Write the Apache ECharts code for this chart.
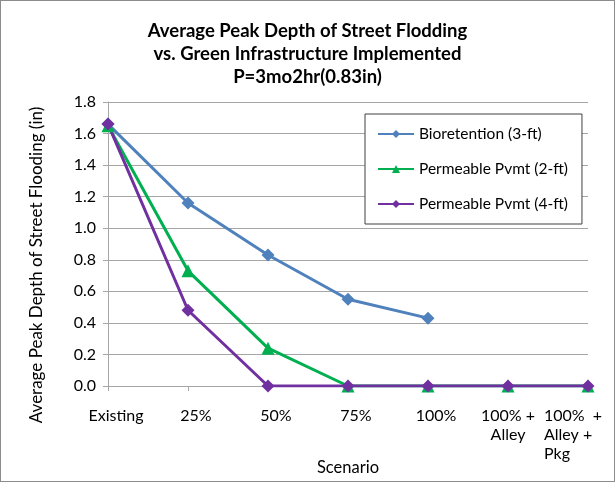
<!DOCTYPE html>
<html>
<head>
<meta charset="utf-8">
<script src="https://cdn.jsdelivr.net/npm/echarts@6/dist/echarts.min.js"></script>
<style>
  html, body { margin: 0; padding: 0; background: #fff; }
  #chart { width: 613px; height: 480px; border: 1px solid #8c8c8c; }
</style>
</head>
<body>
<div id="chart"></div>
<script>
// Scenario categories along the x axis
const scenarios = ['Existing', '25%', '50%', '75%', '100%', '100% +\nAlley', '100%  +\nAlley +\nPkg'];

// Average peak depth of street flooding (in) per scenario
const bioretention3ft = [1.66, 1.16, 0.83, 0.55, 0.43, null, null];
const permeablePvmt2ft = [1.65, 0.73, 0.24, 0, 0, 0, 0];
const permeablePvmt4ft = [1.66, 0.48, 0, 0, 0, 0, 0];

const seriesNames = ['Bioretention (3-ft)', 'Permeable Pvmt (2-ft)', 'Permeable Pvmt (4-ft)'];

const FONT = 'Lato, "Open Sans", sans-serif';

const chart = echarts.init(document.getElementById('chart'));

// Single-line labels sit a little right of their ticks; the two-line one stays centred
// and the last one is pulled back inside the frame
const categoryData = scenarios.map((s, i) => {
  let textStyle;
  if (i === scenarios.length - 1) textStyle = { align: 'left', padding: [0, 0, 0, -44] };
  else if (i === scenarios.length - 2) textStyle = {};
  else textStyle = { padding: [0, 0, 0, 16] };
  return { value: s, textStyle };
});

chart.setOption({
  animation: false,
  backgroundColor: '#fff',
  title: {
    text: 'Average Peak Depth of Street Flodding\nvs. Green Infrastructure Implemented\nP=3mo2hr(0.83in)',
    left: 'center',
    top: 14,
    textStyle: { fontFamily: FONT, fontSize: 18.5, fontWeight: 'bold', color: '#000', lineHeight: 23 }
  },
  grid: { left: 107, right: 26, top: 101, bottom: 95, outerBoundsMode: 'none', containLabel: false },
  legend: {
    orient: 'vertical',
    left: 364,
    top: 113,
    width: 215,
    padding: [12, 14, 12, 12],
    itemGap: 19,
    itemWidth: 36,
    itemHeight: 10,
    backgroundColor: '#fff',
    borderColor: '#404040',
    borderWidth: 1,
    textStyle: { fontFamily: FONT, fontSize: 15.5, color: '#000' },
    data: seriesNames
  },
  xAxis: {
    type: 'category',
    boundaryGap: false,
    data: categoryData,
    name: 'Scenario',
    nameLocation: 'middle',
    nameGap: 73,
    nameMoveOverlap: false,
    nameTextStyle: { fontFamily: FONT, fontSize: 16.5, color: '#000' },
    axisLine: { lineStyle: { color: '#a6a6a6', width: 1 } },
    axisTick: { show: true, alignWithLabel: true, length: 5, lineStyle: { color: '#a6a6a6' } },
    axisLabel: { interval: 0, margin: 20, fontFamily: FONT, fontSize: 16, color: '#000', lineHeight: 19, verticalAlign: 'top' },
    splitLine: { show: false }
  },
  yAxis: {
    type: 'value',
    min: 0,
    max: 1.8,
    interval: 0.2,
    name: 'Average Peak Depth of Street Flooding (in)',
    nameLocation: 'middle',
    nameGap: 63,
    nameMoveOverlap: false,
    nameTextStyle: { fontFamily: FONT, fontSize: 17, color: '#000', padding: [0, 42, 0, 0] },
    axisLine: { show: true, lineStyle: { color: '#a6a6a6', width: 1 } },
    axisTick: { show: true, length: 5, lineStyle: { color: '#a6a6a6' } },
    axisLabel: { formatter: v => v.toFixed(1), margin: 12, fontFamily: FONT, fontSize: 16, color: '#000' },
    splitLine: { lineStyle: { color: '#a6a6a6', width: 1 } }
  },
  series: [
    {
      name: seriesNames[0],
      type: 'line',
      data: bioretention3ft,
      symbol: 'diamond',
      symbolSize: 13,
      itemStyle: { color: '#4F81BD' },
      lineStyle: { color: '#4F81BD', width: 3 }
    },
    {
      name: seriesNames[1],
      type: 'line',
      data: permeablePvmt2ft,
      symbol: 'triangle',
      symbolSize: 13,
      itemStyle: { color: '#00B050' },
      lineStyle: { color: '#00B050', width: 3 }
    },
    {
      name: seriesNames[2],
      type: 'line',
      data: permeablePvmt4ft,
      symbol: 'diamond',
      symbolSize: 13,
      itemStyle: { color: '#7030A0' },
      lineStyle: { color: '#7030A0', width: 3 }
    }
  ]
});
</script>
</body>
</html>
